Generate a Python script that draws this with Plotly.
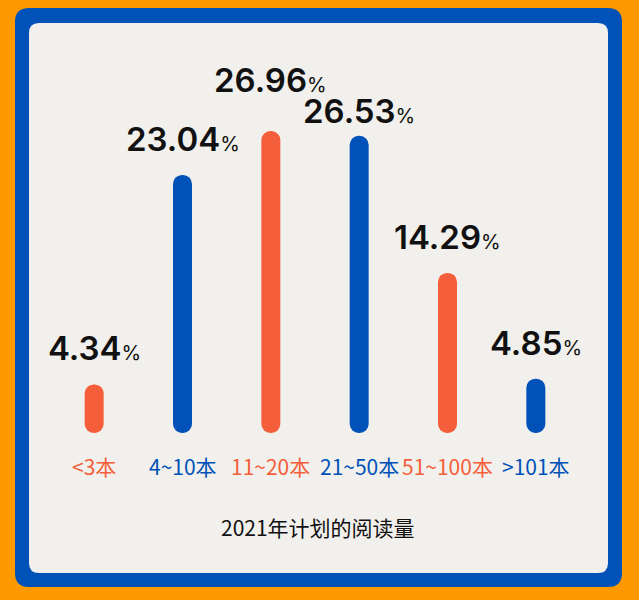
import plotly.graph_objects as go

W, H = 639, 600
ML, MR, MT, MB = 50, 59, 30, 140
PW, PH = W - ML - MR, H - MT - MB

categories = ["<3本", "4~10本", "11~20本", "21~50本", "51~100本", ">101本"]
values = [4.34, 23.04, 26.96, 26.53, 14.29, 4.85]
bases = [0, 0, 0, 0, 0, 0]

ORANGE = "#F45E3A"
BLUE = "#0052B8"
bar_colors = [ORANGE, BLUE, ORANGE, BLUE, ORANGE, BLUE]

BG = "#FF9900"
PANEL = "#F2F0EC"
FRAME = "#0052B8"

# the value labels are staggered by hand in the original
LABEL_NUDGE = {"11~20本": 15, "21~50本": -11}


def px2paper(x, y):
    return (x - ML) / PW, (MT + PH - y) / PH


def rounded_rect(x0, y0, x1, y1, r):
    # rounded rectangle path in paper coords, corners given in pixels (top-down)
    def p(x, y):
        a, b = px2paper(x, y)
        return f"{a:.5f},{b:.5f}"
    return (
        f"M {p(x0 + r, y0)} L {p(x1 - r, y0)} Q {p(x1, y0)} {p(x1, y0 + r)} "
        f"L {p(x1, y1 - r)} Q {p(x1, y1)} {p(x1 - r, y1)} "
        f"L {p(x0 + r, y1)} Q {p(x0, y1)} {p(x0, y1 - r)} "
        f"L {p(x0, y0 + r)} Q {p(x0, y0)} {p(x0 + r, y0)} Z"
    )


fig = go.Figure()
# explicit base -> plotly rounds both ends of the bar (pill shape)
fig.add_trace(go.Bar(
    x=categories, y=values, base=bases, width=0.215,
    marker=dict(color=bar_colors, cornerradius="50%", line=dict(width=0)),
    hoverinfo="skip",
))

shapes = [
    dict(type="path", xref="paper", yref="paper", layer="below",
         path=rounded_rect(15, 8, 622, 587, 14), fillcolor=FRAME, line=dict(width=0)),
    dict(type="path", xref="paper", yref="paper", layer="below",
         path=rounded_rect(29, 23, 608, 573, 10), fillcolor=PANEL, line=dict(width=0)),
]

annotations = []
for cat, v, c in zip(categories, values, bar_colors):
    annotations.append(dict(
        x=cat, y=v, xref="x", yref="y", yanchor="bottom",
        yshift=14 + LABEL_NUDGE.get(cat, 0),
        text=f"{v:.2f}<span style='font-size:20px;font-weight:400'>%</span>",
        showarrow=False,
        font=dict(family="Inter, Roboto, sans-serif", size=33, weight=600, color="#111111"),
    ))
    annotations.append(dict(
        x=cat, y=0, xref="x", yref="y", yanchor="middle", yshift=-33,
        text=cat, showarrow=False,
        font=dict(family="Noto Sans CJK SC, sans-serif", size=21, color=c),
    ))

tx, ty = px2paper(318, 527)
annotations.append(dict(
    x=tx, y=ty, xref="paper", yref="paper", xanchor="center", yanchor="middle",
    text="2021年计划的阅读量", showarrow=False,
    font=dict(family="Noto Sans CJK SC, sans-serif", size=21, color="#111111"),
))

fig.update_layout(
    width=W, height=H,
    margin=dict(l=ML, r=MR, t=MT, b=MB),
    paper_bgcolor=BG,
    plot_bgcolor="rgba(0,0,0,0)",
    showlegend=False,
    shapes=shapes,
    annotations=annotations,
    xaxis=dict(visible=False, range=[-0.5, 5.5]),
    yaxis=dict(visible=False, range=[-2.41, 35.98]),
)

fig.write_html("out.html", config={"displayModeBar": False},
               post_script="document.body.style.margin='0';")
